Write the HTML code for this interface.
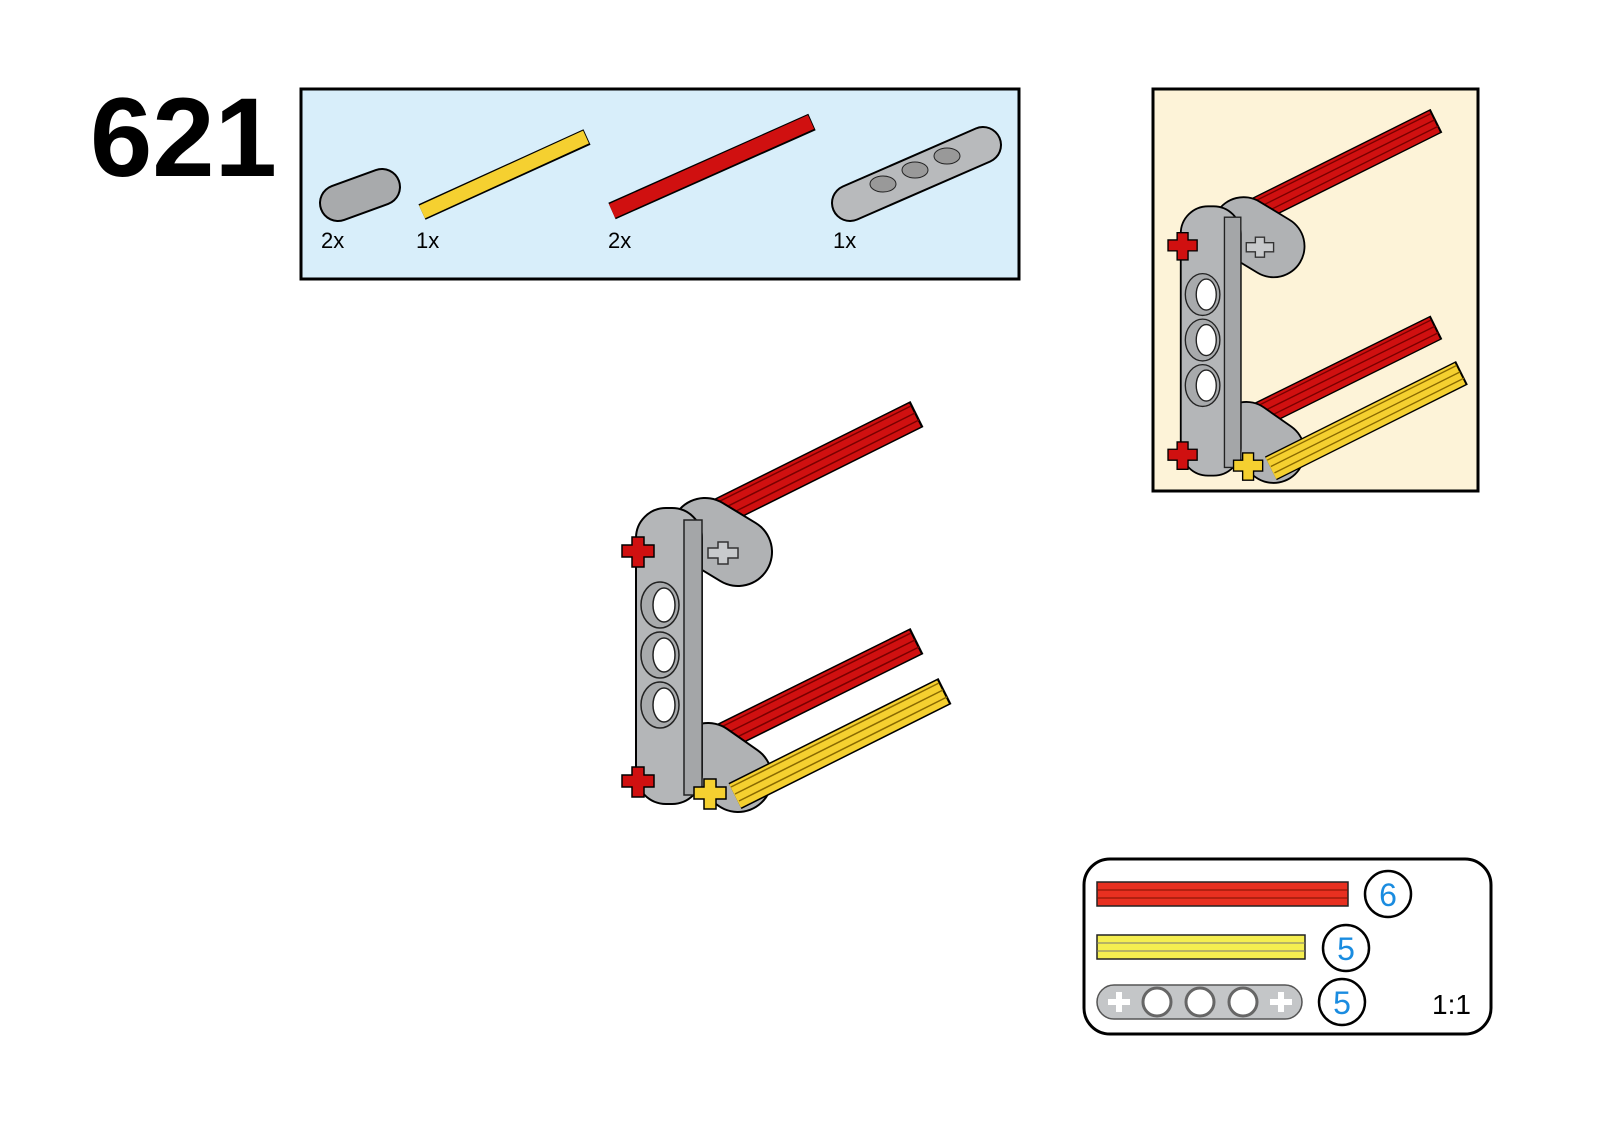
<!DOCTYPE html>
<html><head><meta charset="utf-8"><style>
html,body{margin:0;padding:0;background:#fff;}
svg{display:block;}
text{font-family:"Liberation Sans",Arial,sans-serif;}
</style></head><body>
<svg width="1600" height="1133" viewBox="0 0 1600 1133" xmlns="http://www.w3.org/2000/svg">
<defs>
<g id="asm">
  <!-- top red axle -->
  <line x1="700" y1="522" x2="917" y2="414" stroke="#000" stroke-width="29"/>
  <line x1="700" y1="522" x2="915" y2="415" stroke="#d01010" stroke-width="26"/>
  <line x1="704" y1="527" x2="919" y2="420" stroke="#7a0000" stroke-width="1.5"/>
  <line x1="700" y1="520" x2="915" y2="413" stroke="#7a0000" stroke-width="1.5"/>
  <line x1="696" y1="513" x2="911" y2="406" stroke="#7a0000" stroke-width="1.5"/>
  <!-- lower red axle -->
  <line x1="705" y1="746" x2="917" y2="641" stroke="#000" stroke-width="29"/>
  <line x1="705" y1="746" x2="915" y2="642" stroke="#d01010" stroke-width="26"/>
  <line x1="709" y1="751" x2="919" y2="647" stroke="#7a0000" stroke-width="1.5"/>
  <line x1="705" y1="744" x2="915" y2="640" stroke="#7a0000" stroke-width="1.5"/>
  <line x1="701" y1="737" x2="911" y2="633" stroke="#7a0000" stroke-width="1.5"/>
  <!-- top liftarm -->
  <line x1="705" y1="532" x2="738" y2="552" stroke="#000" stroke-width="70" stroke-linecap="round"/>
  <line x1="705" y1="532" x2="738" y2="552" stroke="#b0b2b4" stroke-width="66" stroke-linecap="round"/>
  <path d="M708 548 h10 v-6 h10 v6 h10 v10 h-10 v6 h-10 v-6 h-10z" fill="#c8cacc" stroke="#333" stroke-width="1.5"/>
  <!-- lower liftarm -->
  <line x1="708" y1="757" x2="738" y2="778" stroke="#000" stroke-width="70" stroke-linecap="round"/>
  <line x1="708" y1="757" x2="738" y2="778" stroke="#b0b2b4" stroke-width="66" stroke-linecap="round"/>
  <!-- yellow axle -->
  <line x1="735" y1="796" x2="945" y2="691" stroke="#000" stroke-width="29"/>
  <line x1="735" y1="796" x2="943" y2="692" stroke="#f5d030" stroke-width="26"/>
  <line x1="739" y1="801" x2="947" y2="697" stroke="#8a6a00" stroke-width="1.5"/>
  <line x1="735" y1="794" x2="943" y2="690" stroke="#8a6a00" stroke-width="1.5"/>
  <line x1="731" y1="787" x2="939" y2="683" stroke="#8a6a00" stroke-width="1.5"/>
  <!-- vertical beam -->
  <rect x="636" y="508" width="66" height="296" rx="30" fill="#b4b6b8" stroke="#000" stroke-width="2"/>
  <rect x="684" y="520" width="18" height="275" fill="#a4a6a8" stroke="#222" stroke-width="1.5"/>
  <ellipse cx="660" cy="605" rx="19" ry="23" fill="#a8aaac" stroke="#222" stroke-width="1.5"/>
  <ellipse cx="664" cy="605" rx="11" ry="17" fill="#fff" stroke="#222" stroke-width="1.5"/>
  <ellipse cx="660" cy="655" rx="19" ry="23" fill="#a8aaac" stroke="#222" stroke-width="1.5"/>
  <ellipse cx="664" cy="655" rx="11" ry="17" fill="#fff" stroke="#222" stroke-width="1.5"/>
  <ellipse cx="660" cy="705" rx="19" ry="23" fill="#a8aaac" stroke="#222" stroke-width="1.5"/>
  <ellipse cx="664" cy="705" rx="11" ry="17" fill="#fff" stroke="#222" stroke-width="1.5"/>
  <!-- crosses -->
  <path d="M630 537 h10 v-8 h12 v8 h10 v12 h-10 v10 h-12 v-10 h-10 v-2z" fill="#d01010" stroke="#000" stroke-width="1.5" transform="translate(-8,8)"/>
  <path d="M630 767 h10 v-8 h12 v8 h10 v12 h-10 v10 h-12 v-10 h-10z" fill="#d01010" stroke="#000" stroke-width="1.5" transform="translate(-8,8)"/>
  <path d="M700 782 h10 v-8 h12 v8 h10 v12 h-10 v10 h-12 v-10 h-10z" fill="#f5d030" stroke="#000" stroke-width="1.5" transform="translate(-6,5)"/>
</g>
</defs>

<text x="90" y="176" font-size="112" font-weight="bold" fill="#000">621</text>

<!-- parts box -->
<rect x="301" y="89" width="718" height="190" fill="#d8eefa" stroke="#000" stroke-width="3"/>
<line x1="338" y1="203" x2="382" y2="187" stroke="#000" stroke-width="38" stroke-linecap="round"/>
<line x1="338" y1="203" x2="382" y2="187" stroke="#a8aaac" stroke-width="34" stroke-linecap="round"/>
<line x1="422" y1="212" x2="587" y2="137" stroke="#000" stroke-width="17"/>
<line x1="422" y1="212" x2="586" y2="137" stroke="#f5d030" stroke-width="14"/>
<line x1="612" y1="211" x2="812" y2="122" stroke="#000" stroke-width="18"/>
<line x1="612" y1="211" x2="811" y2="122" stroke="#d01010" stroke-width="15"/>
<line x1="850" y1="203" x2="983" y2="145" stroke="#000" stroke-width="38" stroke-linecap="round"/>
<line x1="850" y1="203" x2="983" y2="145" stroke="#b8babc" stroke-width="34" stroke-linecap="round"/>
<ellipse cx="883" cy="184" rx="13" ry="8" fill="#999" stroke="#222"/>
<ellipse cx="915" cy="170" rx="13" ry="8" fill="#999" stroke="#222"/>
<ellipse cx="947" cy="156" rx="13" ry="8" fill="#999" stroke="#222"/>
<g font-size="22" fill="#000">
<text x="321" y="248">2x</text><text x="416" y="248">1x</text>
<text x="608" y="248">2x</text><text x="833" y="248">1x</text>
</g>

<!-- callout -->
<rect x="1153" y="89" width="325" height="402" fill="#fdf3d8" stroke="#000" stroke-width="3"/>
<use href="#asm" transform="translate(602,-256) scale(0.91)"/>

<use href="#asm"/>

<!-- legend -->
<rect x="1084" y="859" width="407" height="175" rx="26" fill="#fff" stroke="#000" stroke-width="3"/>
<rect x="1097" y="882" width="251" height="24" fill="#e83020" stroke="#222" stroke-width="1.5"/>
<line x1="1097" y1="890" x2="1348" y2="890" stroke="#7a1000" stroke-width="1"/>
<line x1="1097" y1="898" x2="1348" y2="898" stroke="#7a1000" stroke-width="1"/>
<rect x="1097" y="935" width="208" height="24" fill="#f5ee50" stroke="#222" stroke-width="1.5"/>
<line x1="1097" y1="943" x2="1305" y2="943" stroke="#777" stroke-width="1"/>
<line x1="1097" y1="951" x2="1305" y2="951" stroke="#777" stroke-width="1"/>
<rect x="1097" y="985" width="205" height="34" rx="17" fill="#c4c6c8" stroke="#555" stroke-width="1.5"/>
<circle cx="1157" cy="1002" r="14" fill="#fff" stroke="#666" stroke-width="3"/>
<circle cx="1200" cy="1002" r="14" fill="#fff" stroke="#666" stroke-width="3"/>
<circle cx="1243" cy="1002" r="14" fill="#fff" stroke="#666" stroke-width="3"/>
<path d="M1108 999h8v-7h6v7h8v6h-8v7h-6v-7h-8z" fill="#fff"/>
<path d="M1270 999h8v-7h6v7h8v6h-8v7h-6v-7h-8z" fill="#fff"/>
<g fill="#fff" stroke="#000" stroke-width="2.5">
<circle cx="1388" cy="894" r="23"/><circle cx="1346" cy="948" r="23"/><circle cx="1342" cy="1002" r="23"/>
</g>
<g font-size="32" fill="#1a8ce0" text-anchor="middle">
<text x="1388" y="906">6</text><text x="1346" y="960">5</text><text x="1342" y="1014">5</text>
</g>
<text x="1432" y="1014" font-size="28" fill="#000">1:1</text>
</svg>
</body></html>
